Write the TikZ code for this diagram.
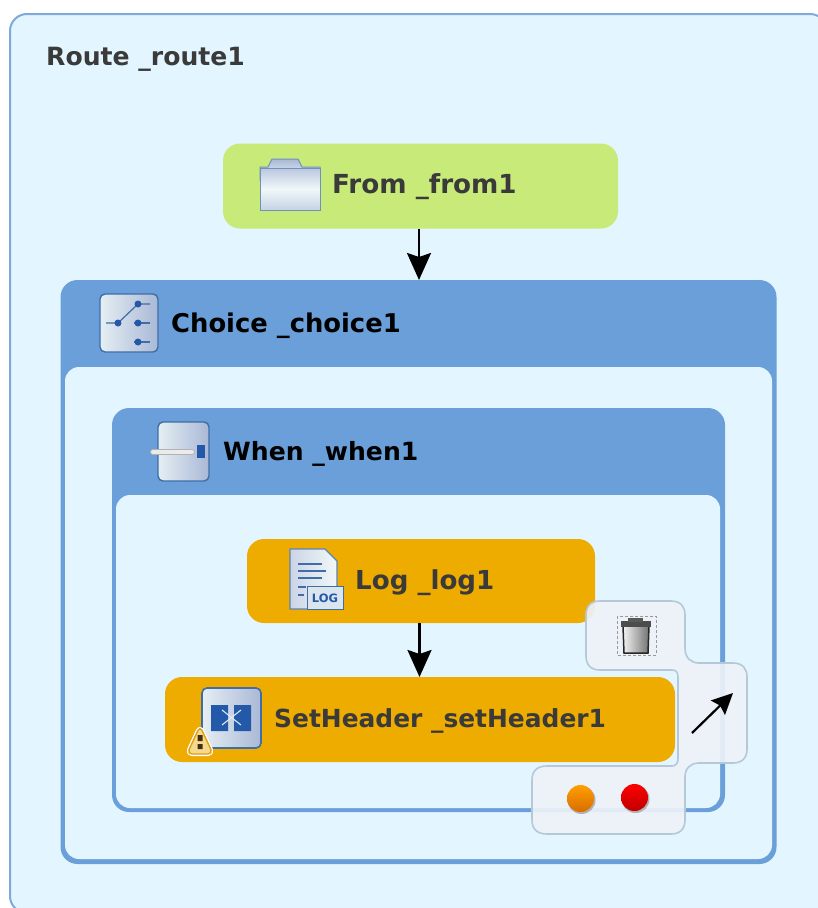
\documentclass[tikz,border=0pt]{standalone}
\usepackage{fontspec}
\setmainfont{DejaVu Sans}
\usetikzlibrary{arrows.meta}
\definecolor{paleblue}{HTML}{E3F6FF}
\definecolor{edgeblue}{HTML}{7FA9DC}
\definecolor{headblue}{HTML}{6A9FDA}
\definecolor{limefill}{HTML}{C8EA78}
\definecolor{amberfill}{HTML}{EEAB00}
\definecolor{palettefill}{HTML}{EDF2F8}
\definecolor{paletteedge}{HTML}{B4C8DA}
\definecolor{iconedge}{HTML}{3F6DA8}
\definecolor{icondark}{HTML}{2458A8}
\definecolor{iconlight}{HTML}{F0F8F8}
\definecolor{iconshade}{HTML}{A9B8D6}
\definecolor{darktext}{HTML}{3A3A3A}
\tikzset{
  x=1pt,y=-1pt,
  plainbox/.style={rectangle,inner sep=0pt,outer sep=0pt},
  routebox/.style={plainbox,draw=edgeblue,line width=2pt,fill=paleblue,rounded corners=17pt},
  flowbox/.style={plainbox,rounded corners=17pt},
  fromfill/.style={flowbox,fill=limefill},
  stepfill/.style={flowbox,fill=amberfill},
  groupbox/.style={plainbox,fill=headblue,rounded corners=17pt},
  groupinner/.style={plainbox,fill=paleblue,rounded corners=14pt},
  lbl/.style={anchor=west,inner sep=0pt},
  flowarrow/.style={draw=black,line width=2.6pt,-{Stealth[length=27pt,width=24pt,inset=4pt]}},
  iconbox/.style={draw=iconedge,line width=1.4pt,rounded corners=5pt,left color=iconlight!85!iconshade,middle color=iconlight,right color=iconshade},
  dotb/.style={fill=icondark,circle,inner sep=0pt,minimum size=7pt},
}
\newcommand{\lblfont}[1]{\fontsize{#1}{28}\selectfont\bfseries}
\begin{document}
\begin{tikzpicture}
\useasboundingbox (0,0) rectangle (818,908);
\clip (0,0) rectangle (818,908);
\fill[white] (0,0) rectangle (818,908);
\draw[routebox] (10,14) rectangle (827,913);
\node[lbl,text=darktext,font=\lblfont{25.1}] (routelabel) at (46,59) {Route \_route1};

% From
\node[fromfill,minimum width=395pt,minimum height=85pt] (from) at (420.5,186) {};
\node[lbl,text=darktext,font=\lblfont{26.2}] (fromlabel) at (332,187) {From \_from1};
\shade[top color=iconshade,bottom color=iconlight,draw=iconedge!75!white,line width=1pt]
  (260,180) -- (260,167) -- (268,167) -- (272,159) -- (298,159) -- (302,167) -- (320,167) -- (320,180) -- cycle;
\shade[top color=iconshade!80!white,bottom color=iconedge!30!white,middle color=iconlight,draw=iconedge!75!white,line width=1pt]
  (260,168) rectangle (320,210);

% Choice
\node[groupbox,minimum width=716pt,minimum height=584pt] (choice) at (418.5,572) {};
\node[groupinner,minimum width=707pt,minimum height=492pt] (choiceinner) at (418.5,613) {};
\draw[iconbox] (100,294) rectangle (158,352);
\draw[iconedge,line width=1.2pt] (106,323) -- (118,323) -- (138,304) -- (150,304);
\draw[iconedge,line width=1.2pt] (134,323) -- (150,323) (134,342) -- (150,342);
\node[dotb] (c1) at (118,323) {};
\node[dotb] (c2) at (138,304) {};
\node[dotb] (c3) at (138,323) {};
\node[dotb] (c4) at (138,342) {};
\node[lbl,text=black,font=\lblfont{25.8}] (choicelabel) at (171,326) {Choice \_choice1};

% When
\node[groupbox,minimum width=613pt,minimum height=404pt] (when) at (418.5,610) {};
\node[groupinner,minimum width=604pt,minimum height=313pt] (wheninner) at (418,651.5) {};
\draw[iconbox] (158,422) rectangle (209,481);
\draw[black!30,line width=6pt,line cap=round] (153,452) -- (192,452);
\draw[white!92!black,line width=4pt,line cap=round] (153,452) -- (192,452);
\fill[icondark] (197,445) rectangle (205,458);
\node[lbl,text=black,font=\lblfont{25.1}] (whenlabel) at (223,454) {When \_when1};

% Log
\node[stepfill,minimum width=348pt,minimum height=84pt] (log) at (421,581) {};
\shade[left color=iconshade!60!white,right color=iconlight,draw=iconedge!85!white,line width=1.2pt]
  (290,549) -- (325,549) -- (337,561) -- (337,609) -- (290,609) -- cycle;
\draw[iconedge,line width=1.5pt] (298,564) -- (322,564) (298,571) -- (326,571) (298,578) -- (322,578) (298,587) -- (306,587) (298,595) -- (304,595);
\fill[iconlight!70!iconshade,draw=iconedge,line width=1pt] (307,586) rectangle (343,609);
\node[inner sep=0pt,text=icondark,font=\fontsize{11.5}{12}\selectfont\bfseries] (logtag) at (325,598) {LOG};
\node[lbl,text=darktext,font=\lblfont{26.1}] (loglabel) at (355,583) {Log \_log1};

% SetHeader
\node[stepfill,minimum width=510pt,minimum height=85pt] (sethead) at (420,719.5) {};
\draw[iconbox,line width=1.6pt] (202,688) rectangle (261,748);
\fill[icondark] (211,705) rectangle (228,731) (234,705) rectangle (251,731);
\draw[iconlight!80!iconshade,line width=1.1pt] (222,710) -- (241,725) (222,725) -- (241,710);
\path[fill=white,draw=white,line width=4pt,rounded corners=5pt,line join=round] (200,726) -- (187,754) -- (213,754) -- cycle;
\path[fill=white!55!amberfill,draw=amberfill!70!brown,line width=1.4pt,rounded corners=5pt] (200,726) -- (187,754) -- (213,754) -- cycle;
\fill[black!65!brown] (197.5,735) rectangle (202.5,741) (197.5,744) rectangle (202.5,749);
\node[lbl,text=darktext,font=\lblfont{24.9}] (setlabel) at (274,721) {SetHeader \_setHeader1};

% Connectors
\draw[flowarrow] ([xshift=-1.5pt]from.south) -- ([xshift=-1.5pt]from.south |- choice.north);
\draw[flowarrow] ([xshift=-1.5pt]log.south) -- ([xshift=-1.5pt]log.south |- sethead.north);

% Palette
\path[fill=palettefill,fill opacity=.92,draw=paletteedge,line width=1.6pt]
  (600,601) -- (671,601) .. controls (681,601) and (685,607) .. (685,615) -- (685,648)
  .. controls (685,658) and (691,663) .. (699,663) -- (733,663)
  .. controls (743,663) and (747,669) .. (747,677) -- (747,749)
  .. controls (747,758) and (742,763) .. (733,763) -- (699,763)
  .. controls (691,763) and (685,768) .. (685,777) -- (685,820)
  .. controls (685,829) and (680,834) .. (671,834) -- (547,834)
  .. controls (537,834) and (532,829) .. (532,820) -- (532,780)
  .. controls (532,771) and (537,766) .. (547,766) -- (672,766)
  .. controls (676,766) and (678,763) .. (678,759) -- (678,677)
  .. controls (678,672) and (676,670) .. (672,670) -- (600,670)
  .. controls (591,670) and (586,665) .. (586,656) -- (586,615)
  .. controls (586,606) and (591,601) .. (600,601) -- cycle;

% Trash
\draw[black!40,line width=.9pt,dash pattern=on 3pt off 2pt] (617,616) rectangle (656,655);
\shade[left color=white!95!black,right color=black!55,draw=black!85,line width=1.5pt]
  (623,626) -- (649,626) -- (648,653) -- (624,653) -- cycle;
\fill[black!70] (621,621) rectangle (651,627);
\fill[black!65] (628,618) rectangle (643,622);

% Arrow tool
\coordinate (toolstart) at (692,733);
\coordinate (toolend) at (733,693);
\draw[black,line width=2.2pt,-{Stealth[length=21pt,width=20pt,inset=3pt]}] (toolstart) -- (toolend);

% Dots
\fill[black!30] (581.5,800) circle (14pt);
\fill[black!30] (635.5,799) circle (14pt);
\shade[top color=orange!75!yellow,bottom color=orange!85!black] (580.5,798.5) circle (13.5pt);
\shade[top color=red,middle color=red,bottom color=red!75!black] (634.5,797.5) circle (13.5pt);
\end{tikzpicture}
\end{document}
